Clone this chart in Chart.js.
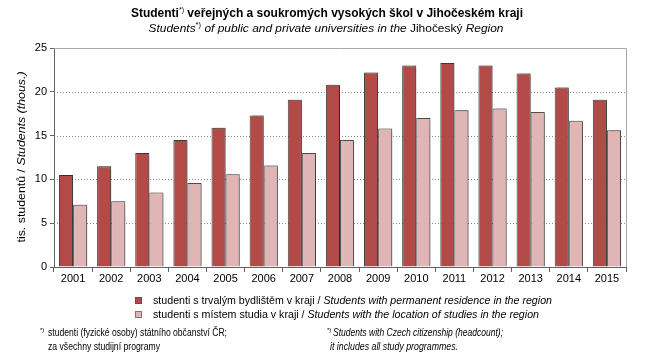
<!DOCTYPE html>
<html>
<head>
<meta charset="utf-8">
<script src="https://cdn.jsdelivr.net/npm/chart.js@4/dist/chart.umd.min.js"></script>
<style>
  html, body { margin: 0; padding: 0; background: #fff; }
  canvas { display: block; }
</style>
</head>
<body>
<canvas id="graf" width="654" height="362"></canvas>
<script>
// === DATA ===
const years = ["2001", "2002", "2003", "2004", "2005", "2006", "2007", "2008",
  "2009", "2010", "2011", "2012", "2013", "2014", "2015"];
const residence = [10.5, 11.5, 13.0, 14.5, 15.9, 17.3, 19.1, 20.8, 22.2, 23.0, 23.3, 23.0, 22.1, 20.5, 19.1];
const studyLocation = [7.1, 7.5, 8.5, 9.6, 10.6, 11.6, 13.0, 14.5, 15.8, 17.0, 17.9, 18.1, 17.7, 16.7, 15.6];
const gridValues = [5, 10, 15, 20];

const FONT = "'Liberation Sans', Arial, sans-serif";
const f = (style, size) => style + " " + size + "px " + FONT;

// === TEXT HELPER (mixed regular / italic runs) ===
function drawRuns(ctx, runs, x, y, align, width) {
  let total = 0;
  runs.forEach(r => { ctx.font = r.font; r.w = ctx.measureText(r.t).width; total += r.w; });
  const sc = width ? width / total : 1;
  const real = total * sc;
  let sx = x;
  if (align === "center") sx = x - real / 2;
  if (align === "right") sx = x - real;
  ctx.save();
  ctx.translate(sx, y);
  ctx.scale(sc, 1);
  ctx.textBaseline = "alphabetic";
  ctx.textAlign = "left";
  let cx = 0;
  runs.forEach(r => {
    ctx.font = r.font;
    ctx.fillStyle = r.color || "#000";
    ctx.fillText(r.t, cx, r.dy || 0);
    cx += r.w;
  });
  ctx.restore();
}

const textPlugin = {
  id: "texty",
  afterDraw(chart) {
    const ctx = chart.ctx;
    // title
    drawRuns(ctx, [
      { t: "Studenti", font: f("bold", 12) },
      { t: "*)", font: f("normal", 7), dy: -5 },
      { t: " veřejných a soukromých vysokých škol v Jihočeském kraji", font: f("bold", 12) }
    ], 327, 17, "center", 392);
    drawRuns(ctx, [
      { t: "Students", font: f("italic", 11) },
      { t: "*)", font: f("normal", 7), dy: -5 },
      { t: " of public and private universities in the ", font: f("italic", 11) },
      { t: "Jihočeský ", font: f("normal", 11) },
      { t: "Region", font: f("italic", 11) }
    ], 326, 32, "center", 355);

    // y axis title
    ctx.save();
    ctx.translate(25, 157);
    ctx.rotate(-Math.PI / 2);
    drawRuns(ctx, [
      { t: "tis. studentů / ", font: f("normal", 11) },
      { t: "Students (thous.)", font: f("italic", 11) }
    ], 0, 0, "center", 171);
    ctx.restore();

    // legend
    const items = [
      { c: "#b24a48", b: "#555", cz: "studenti s trvalým bydlištěm v kraji / ", en: "Students with permanent residence in the region", w: 399, y: 303 },
      { c: "#dfb5b5", b: "#777", cz: "studenti s místem studia v kraji / ", en: "Students with the location of studies in the region", w: 386, y: 317 }
    ];
    items.forEach(it => {
      ctx.fillStyle = it.c;
      ctx.fillRect(135, it.y - 6, 7, 7);
      ctx.strokeStyle = it.b;
      ctx.lineWidth = 1;
      ctx.strokeRect(135.5, it.y - 5.5, 6, 6);
      drawRuns(ctx, [
        { t: it.cz, font: f("normal", 11) },
        { t: it.en, font: f("italic", 11) }
      ], 153, it.y + 1, "left", it.w);
    });

    // footnotes
    drawRuns(ctx, [{ t: "*)", font: f("normal", 6), dy: -4 }], 40, 336, "left");
    drawRuns(ctx, [{ t: "studenti (fyzické osoby) státního občanství ČR;", font: f("normal", 11) }], 48, 336, "left", 179);
    drawRuns(ctx, [{ t: "za všechny studijní programy", font: f("normal", 11) }], 48, 350, "left", 112);
    drawRuns(ctx, [{ t: "*)", font: f("normal", 6), dy: -4 }], 327, 336, "left");
    drawRuns(ctx, [{ t: "Students with Czech citizenship (headcount);", font: f("italic", 11) }], 333, 336, "left", 170);
    drawRuns(ctx, [{ t: "it includes all study programmes.", font: f("italic", 11) }], 330, 350, "left", 128);
  }
};

const gridPlugin = {
  id: "mrizka",
  beforeDatasetsDraw(chart) {
    const ctx = chart.ctx;
    const a = chart.chartArea;
    const y = chart.scales.y;
    ctx.save();
    ctx.lineWidth = 1;
    ctx.strokeStyle = "#8a8a8a";
    ctx.setLineDash([1, 2]);
    gridValues.forEach(v => {
      const py = Math.round(y.getPixelForValue(v)) + 0.5;
      ctx.beginPath();
      ctx.moveTo(a.left, py);
      ctx.lineTo(a.right, py);
      ctx.stroke();
    });
    ctx.setLineDash([]);
    ctx.strokeStyle = "#a6a6a6";
    const top = Math.round(y.getPixelForValue(25)) + 0.5;
    ctx.beginPath();
    ctx.moveTo(a.left, top);
    ctx.lineTo(Math.round(a.right) + 0.5, top);
    ctx.lineTo(Math.round(a.right) + 0.5, a.bottom);
    ctx.stroke();
    ctx.restore();
    // bar shadow
    ctx.save();
    ctx.shadowColor = "rgba(0,0,0,0.28)";
    ctx.shadowOffsetX = 2;
    ctx.shadowOffsetY = -1;
    ctx.shadowBlur = 1;
  },
  afterDatasetsDraw(chart) {
    chart.ctx.restore();
  }
};

new Chart(document.getElementById("graf"), {
  type: "bar",
  data: {
    labels: years,
    datasets: [{
      label: "studenti s trvalým bydlištěm v kraji",
      data: residence,
      backgroundColor: "#b24a48",
      borderColor: "#404040",
      borderWidth: 1
    }, {
      label: "studenti s místem studia v kraji",
      data: studyLocation,
      backgroundColor: "#dfb5b5",
      borderColor: "#555555",
      borderWidth: 1
    }]
  },
  options: {
    responsive: false,
    animation: false,
    devicePixelRatio: 1,
    categoryPercentage: 0.74,
    barPercentage: 1.0,
    layout: { padding: { top: 48, right: 28, left: 0, bottom: 0 } },
    plugins: {
      legend: { display: false },
      title: { display: false },
      tooltip: { enabled: false }
    },
    scales: {
      x: {
        grid: { offset: true, drawOnChartArea: false, tickLength: 5, color: "#606060" },
        border: { color: "#606060" },
        ticks: { font: { family: FONT, size: 11 }, color: "#000", padding: 0, maxRotation: 0 },
        afterFit: s => { s.height = 95; }
      },
      y: {
        min: 0,
        max: 25,
        ticks: { stepSize: 5, font: { family: FONT, size: 11 }, color: "#000", padding: 3 },
        grid: { drawOnChartArea: false, tickLength: 4, color: "#606060" },
        border: { color: "#606060" },
        afterFit: s => { s.width = 54; }
      }
    }
  },
  plugins: [gridPlugin, textPlugin]
});
</script>
</body>
</html>
